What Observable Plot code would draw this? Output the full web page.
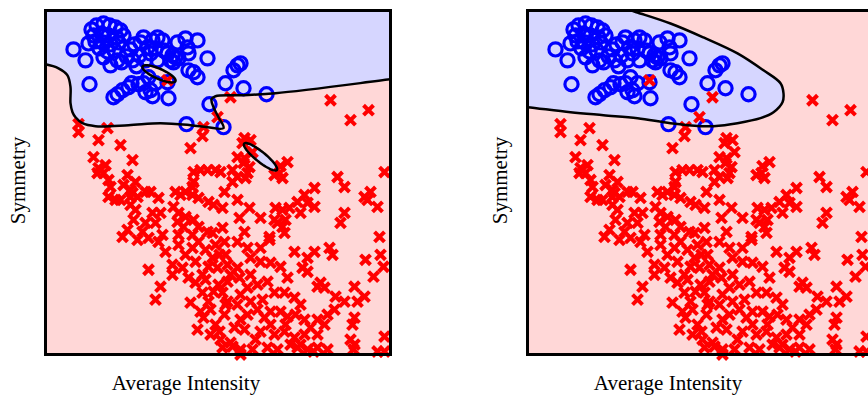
<!DOCTYPE html>
<html><head><meta charset="utf-8">
<script src="https://cdn.jsdelivr.net/npm/d3@7"></script>
<script src="https://cdn.jsdelivr.net/npm/@observablehq/plot@0.6"></script>
<style>
html,body{margin:0;padding:0;background:#fff;overflow:hidden;}
#wrap{position:relative;width:868px;height:395px;overflow:hidden;}
.panel{position:absolute;top:0;}
</style></head><body><div id="wrap"></div>
<script>
// Axis labels
const xLabel = "Average Intensity";
const yLabel = "Symmetry";

// Digit "1" samples (blue circles): [average intensity, symmetry]
const onePoints = [[28,306],[40,295],[44,271],[46,326],[51,330],[58,332],[64,330],[70,328],[75,325],[48,320],[56,322],[63,320],[71,318],[78,320],[43,312],[50,314],[57,313],[65,311],[73,313],[54,307],[62,304],[69,305],[58,298],[65,290],[72,295],[76,293],[81,299],[85,306],[89,311],[95,313],[98,318],[102,308],[107,315],[112,318],[87,295],[91,289],[94,300],[100,295],[105,302],[110,307],[117,315],[118,305],[122,302],[112,295],[125,295],[127,300],[130,298],[132,313],[140,317],[152,315],[142,308],[143,302],[133,297],[128,293],[143,285],[148,283],[152,278],[162,297],[103,278],[110,272],[122,273],[68,258],[72,261],[77,265],[83,268],[86,272],[93,271],[98,272],[100,263],[105,265],[107,259],[123,257],[188,285],[192,290],[195,292],[180,272],[198,267],[221,261],[164,251],[141,231],[178,228]];

// Other digits (red crosses): [average intensity, symmetry]
const otherPoints = [[122,275],[185,258],[172,238],[158,228],[157,219],[145,207],[33,231],[33,223],[62,227],[53,215],[75,210],[285,255],[305,235],[323,245],[199,217],[205,215],[197,212],[207,203],[192,198],[199,197],[204,188],[198,192],[187,185],[175,183],[192,178],[187,173],[200,177],[202,182],[229,180],[237,177],[242,193],[235,189],[234,182],[292,178],[299,168],[339,183],
[48,198],[53,187],[60,190],[58,182],[87,195],[63,175],[65,168],[82,180],[90,173],[78,170],[85,165],[100,163],[105,163],[113,157],[63,158],[70,155],[85,158],[92,158],[85,150],[90,145],[107,142],[115,142],[88,135],[100,132],[110,132],[82,125],[97,123],[117,120],[77,118],[52,182],[75,155],[87,162],
[155,185],[162,185],[170,185],[148,183],[148,173],[147,168],[130,163],[135,160],[140,163],[147,160],[153,157],[163,153],[168,150],[128,148],[133,142],[140,138],[148,135],[132,133],[138,128],[153,128],[162,123],[167,122],[133,120],[147,120],
[269,167],[259,160],[252,153],[262,152],[269,148],[255,142],[244,147],[237,145],[230,147],[240,135],[237,128],[232,132],[229,135],[215,137],[204,147],[192,155],[179,163],[177,147],[194,137],[199,123],[177,127],[224,118],[239,122],[299,142],[295,132],[325,163],[322,155],[332,148],[319,158],[334,118],[335,100],[320,95],[338,88],[328,78],
[92,115],[103,117],[113,113],[120,103],[127,80],[103,85],[115,68],[110,55],[127,90],[137,87],[140,100],[147,107],[153,113],[133,110],[143,77],[150,72],[157,80],[163,88],[167,97],[145,52],[155,43],[158,37],[152,25],[165,20],[170,30],[163,53],[168,63],[157,62],[175,15],
[179,113],[192,113],[202,107],[215,107],[224,115],[249,103],[262,97],[269,103],[257,87],[262,83],[284,107],[287,100],[275,72],[272,68],[279,67],[172,87],[182,90],[192,87],[205,97],[215,93],[225,92],[235,88],[242,77],[182,73],[194,77],[202,67],[212,70],[222,73],[229,62],[239,62],[249,57],[255,50],[182,53],[192,50],[205,53],[212,45],[202,40],[219,37],[225,43],[235,43],[242,38],[250,40],[259,35],[265,27],[272,20],[279,30],[282,40],[289,45],[290,58],[299,53],[309,68],[319,58],[312,53],[309,37],[307,30],[305,15],[309,10],[339,18],[332,3],[339,3],[177,7],[185,12],[195,5],[207,5],[222,7],[232,5],[245,10],[252,7],[262,5],[272,7],[282,5],[179,40],[174,23],[189,27],[199,25],[215,23],[229,20],[239,23],[249,17],[259,20],[177,62],[174,100],[187,8],[195,0],[268,3],[308,5],[272,35],
[160,105],[170,110],[180,100],[150,93],[160,75],[173,70],[185,80],[165,45],[180,50],[195,60],[205,80],[217,55],[195,35],[210,15],[225,30],[240,30],[255,10]];

// Decision boundaries
const overfitBoundary = [[-20,293],[0,291],[13,287],[22,280],[25,268],[25,252],[27,243],[30,238],[37,232],[50,229],[83,230],[115,232],[145,230],[162,228],[178,227],[173,238],[168,248],[166,256],[170,259],[195,260],[230,262],[345,276],[370,279]];
const overfitOuter = [[380,380],[-30,380]];
// Small closed islands: [centre intensity, centre symmetry, semi-axis a, semi-axis b, angle deg, class]
const overfitIslands = [[113.5,281.5,18,5,-24,"other"],[215,198.3,21,5,-39,"one"]];

const regularBoundary = [[92,351],[104,345],[110,343],[143,332],[176,318],[210,302],[236,285],[253,272],[256,262],[255,253],[246,243],[233,237],[210,232],[186,229],[173,229],[143,232],[110,237],[76,240],[43,243],[0,248],[-20,250]];
const regularOuter = [[-30,250],[-30,380],[85,380]];

const domainX = [0, 345], domainY = [0, 345];
const colorOne = "#0000ff", colorOther = "#ff0000";
const regionOne = "#d6d6ff", regionOther = "#ffd7d7";

function ellipse([cx, cy, a, b, deg]) {
  const t = deg * Math.PI / 180;
  return d3.range(0, 73).map(i => {
    const u = i / 72 * 2 * Math.PI;
    const ex = a * Math.cos(u), ey = b * Math.sin(u);
    return [cx + ex * Math.cos(t) - ey * Math.sin(t), cy + ex * Math.sin(t) + ey * Math.cos(t)];
  });
}

function panel(boundary, outer, islands) {
  const region = boundary.concat(outer);
  const marks = [
    Plot.frame({fill: regionOther, stroke: "none"}),
    Plot.line(region, {x: d => d[0], y: d => d[1], fill: regionOne, stroke: "none", curve: "catmull-rom", clip: "frame"})
  ];
  for (const isl of islands) {
    marks.push(Plot.line(ellipse(isl), {x: d => d[0], y: d => d[1], fill: isl[5] === "one" ? regionOne : regionOther, stroke: "none"}));
  }
  marks.push(
    Plot.dot(onePoints, {x: d => d[0], y: d => d[1], symbol: "circle", r: 6.6, stroke: colorOne, strokeWidth: 3.2, fill: "none"}),
    Plot.dot(otherPoints, {x: d => d[0], y: d => d[1], symbol: "times", r: 4.6, stroke: colorOther, strokeWidth: 4, fill: "none"}),
    Plot.line(boundary, {x: d => d[0], y: d => d[1], stroke: "black", strokeWidth: 2.5, curve: "catmull-rom", clip: "frame"})
  );
  for (const isl of islands) {
    marks.push(Plot.line(ellipse(isl), {x: d => d[0], y: d => d[1], stroke: "black", strokeWidth: 2.5, fill: "none"}));
  }
  marks.push(
    Plot.frame({stroke: "black", strokeWidth: 3}),
    Plot.text([xLabel], {frameAnchor: "bottom", textAnchor: "middle", lineAnchor: "middle", dx: -32, dy: 29, fontSize: 21, fill: "black"}),
    Plot.text([yLabel], {frameAnchor: "left", textAnchor: "middle", lineAnchor: "middle", rotate: -90, dx: -27, dy: -2, fontSize: 21, fill: "black"})
  );
  return Plot.plot({
    width: 435, height: 395,
    marginLeft: 45, marginRight: 45, marginTop: 10, marginBottom: 41,
    x: {domain: domainX, axis: null},
    y: {domain: domainY, axis: null},
    style: {fontFamily: "'Liberation Serif', 'DejaVu Serif', serif", background: "transparent", overflow: "visible"},
    marks
  });
}

const wrap = document.getElementById("wrap");
const left = panel(overfitBoundary, overfitOuter, overfitIslands);
left.classList.add("panel"); left.style.left = "0px";
const right = panel(regularBoundary, regularOuter, []);
right.classList.add("panel"); right.style.left = "482px";
wrap.appendChild(left);
wrap.appendChild(right);
</script></body></html>
